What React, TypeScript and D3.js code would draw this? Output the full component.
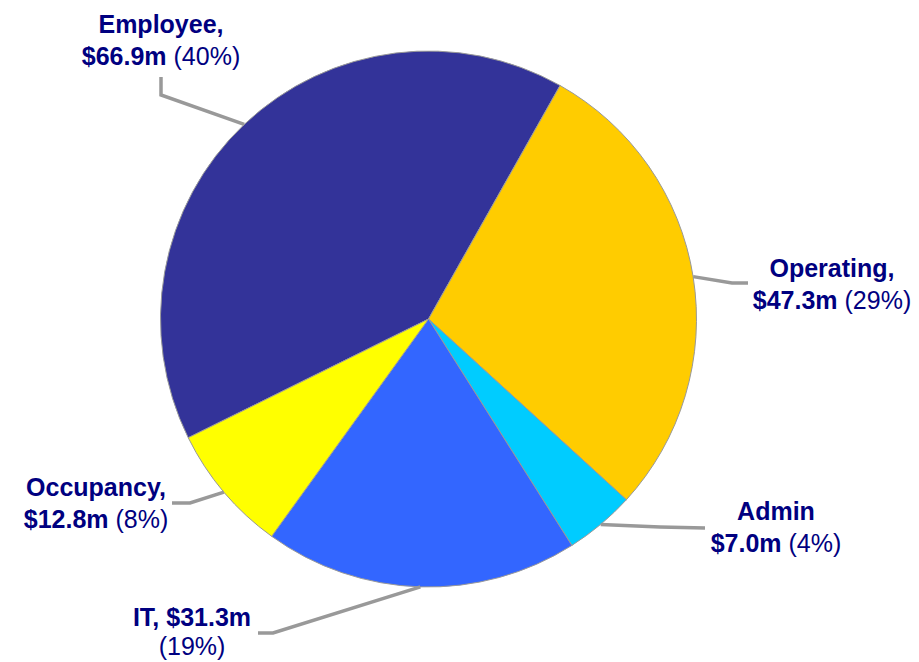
import React from "react";
import * as d3 from "d3";

const categories = ["Employee", "Operating", "Admin", "IT", "Occupancy"];
const values = [66.9, 47.3, 7.0, 31.3, 12.8];
const valueLabels = ["$66.9m", "$47.3m", "$7.0m", "$31.3m", "$12.8m"];
const percentLabels = ["(40%)", "(29%)", "(4%)", "(19%)", "(8%)"];
const colors = ["#333399", "#FFCC00", "#00CCFF", "#3366FF", "#FFFF00"];

const width = 919;
const height = 662;
const cx = 428.5;
const cy = 319;
const radius = 268;
const startDeg = -116.3;

// label layout: elbow point, end of leader line, text anchor and line layout
const labelLayout = [
  { elbow: [161, 95], end: [161, 77], tx: 161, ty: 33, gap: 32, split: "name" },
  { elbow: [732, 283], end: [748, 283], tx: 832, ty: 277, gap: 32, split: "name" },
  { elbow: [660, 527], end: [705, 528], tx: 776, ty: 520, gap: 32, split: "nameNoComma" },
  { elbow: [273, 633], end: [258, 633], tx: 192, ty: 626, gap: 29, split: "pct" },
  { elbow: [190, 503], end: [172, 503], tx: 96, ty: 496, gap: 32, split: "name" },
];

function App() {
  const pie = d3
    .pie<number>()
    .sort(null)
    .startAngle((startDeg * Math.PI) / 180)
    .endAngle((startDeg * Math.PI) / 180 + 2 * Math.PI);
  const arcs = pie(values);
  const arc = d3.arc<d3.PieArcDatum<number>>().innerRadius(0).outerRadius(radius);

  const navy = "#000080";
  const fontSize = 25;

  return (
    <svg
      width={width}
      height={height}
      style={{ position: "absolute", left: 0, top: 0, background: "#fff" }}
      fontFamily="'Liberation Sans', Arial, sans-serif"
    >
      <g transform={`translate(${cx},${cy})`}>
        {arcs.map((a, i) => (
          <path key={i} d={arc(a) || ""} fill={colors[i]} stroke="#999" strokeWidth={1} />
        ))}
      </g>
      {arcs.map((a, i) => {
        const mid = (a.startAngle + a.endAngle) / 2;
        const sx = cx + Math.sin(mid) * radius;
        const sy = cy - Math.cos(mid) * radius;
        const L = labelLayout[i];
        return (
          <polyline
            key={"l" + i}
            points={`${sx},${sy} ${L.elbow[0]},${L.elbow[1]} ${L.end[0]},${L.end[1]}`}
            fill="none"
            stroke="#999"
            strokeWidth={3.5}
          />
        );
      })}
      {categories.map((c, i) => {
        const L = labelLayout[i];
        let line1: React.ReactNode;
        let line2: React.ReactNode;
        if (L.split === "pct") {
          line1 = <tspan fontWeight="bold">{`${c}, ${valueLabels[i]}`}</tspan>;
          line2 = <tspan>{percentLabels[i]}</tspan>;
        } else {
          line1 = <tspan fontWeight="bold">{L.split === "name" ? `${c},` : c}</tspan>;
          line2 = (
            <>
              <tspan fontWeight="bold">{valueLabels[i]}</tspan>
              <tspan>{" " + percentLabels[i]}</tspan>
            </>
          );
        }
        return (
          <g key={"t" + i} fill={navy} fontSize={fontSize} textAnchor="middle">
            <text x={L.tx} y={L.ty}>{line1}</text>
            <text x={L.tx} y={L.ty + L.gap}>{line2}</text>
          </g>
        );
      })}
    </svg>
  );
}

export default App;
